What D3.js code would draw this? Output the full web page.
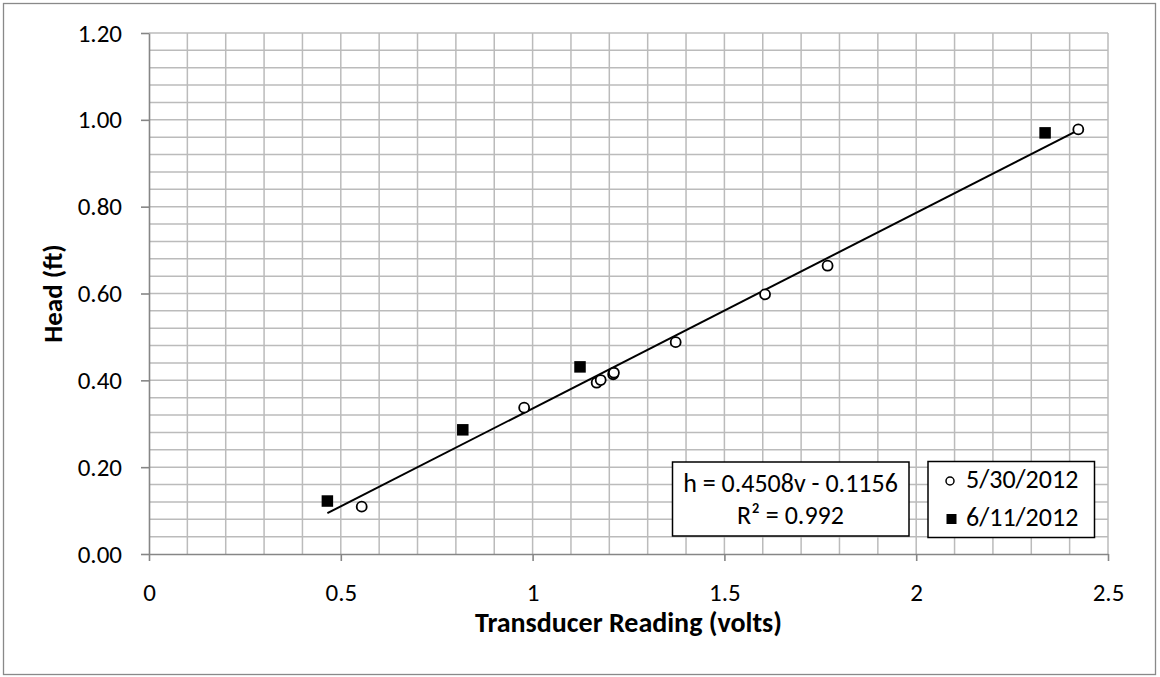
<!DOCTYPE html>
<html>
<head>
<meta charset="utf-8">
<script src="https://cdn.jsdelivr.net/npm/d3@7"></script>
<style>
  html, body { margin: 0; padding: 0; background: #fff; }
  svg { display: block; font-family: Carlito, Calibri, "Open Sans", sans-serif; }
</style>
</head>
<body>
<svg id="chart" width="1160" height="677"></svg>
<script>
// readings taken 5/30/2012 (open circles)
const voltsMay = [0.5545, 0.978, 1.167, 1.1775, 1.21, 1.212, 1.373, 1.606, 1.769, 2.4226]
const headMay  = [0.109, 0.337, 0.3945, 0.4007, 0.414, 0.4175, 0.488, 0.598, 0.664, 0.978]

// readings taken 6/11/2012 (filled squares)
const voltsJun = [0.465, 0.818, 1.1236, 2.336]
const headJun  = [0.122, 0.286, 0.431, 0.970]

const seriesNames = ['5/30/2012', '6/11/2012']
const xTicks = [0, 0.5, 1, 1.5, 2, 2.5]
const yTicks = [0, 0.2, 0.4, 0.6, 0.8, 1.0, 1.2]

// fitted line h = a*v + b
const slope = 0.4508
const intercept = -0.1156
const eqLines = ['h = 0.4508v - 0.1156', 'R² = 0.992']

const svg = d3.select('#chart')
const W = 1160, H = 677
const m = { left: 149, right: 1108, top: 33, bottom: 554 }
const font = 'Carlito, Calibri, "Open Sans", sans-serif'

const x = d3.scaleLinear().domain([0, 2.5]).range([m.left, m.right])
const y = d3.scaleLinear().domain([0, 1.2]).range([m.bottom, m.top])

// chart border
svg.append('rect')
    .attr('x', 3.5).attr('y', 3.5)
    .attr('width', W - 8).attr('height', H - 6)
    .attr('fill', '#fff').attr('stroke', '#898989').attr('stroke-width', 1.3)

// grid
const grid = svg.append('g')
d3.range(1, 26).map(i => i / 10).forEach(v => {
    grid.append('line')
        .attr('x1', x(v)).attr('x2', x(v))
        .attr('y1', m.top).attr('y2', m.bottom)
        .attr('stroke', '#bbbbbb').attr('stroke-width', 1.5)
})
d3.range(1, 31).map(i => i * 0.04).forEach(v => {
    grid.append('line')
        .attr('x1', m.left).attr('x2', m.right)
        .attr('y1', y(v)).attr('y2', y(v))
        .attr('stroke', '#bbbbbb').attr('stroke-width', 1.5)
})

// axes
const xAxis = svg.append('g')
    .attr('transform', `translate(0,${m.bottom})`)
    .call(d3.axisBottom(x).tickValues(xTicks).tickFormat(d3.format('~g')).tickSizeInner(7).tickSizeOuter(0).tickPadding(22))
const yAxis = svg.append('g')
    .attr('transform', `translate(${m.left},0)`)
    .call(d3.axisLeft(y).tickValues(yTicks).tickFormat(d3.format('.2f')).tickSizeInner(8).tickSizeOuter(0).tickPadding(19))

for (const ax of [xAxis, yAxis]) {
    ax.select('.domain').attr('stroke', '#868686').attr('stroke-width', 1.6)
    ax.selectAll('.tick line').attr('stroke', '#868686').attr('stroke-width', 1.6)
    ax.selectAll('.tick text').attr('fill', '#000').style('font-size', '25px').style('font-family', font)
}

// axis titles
svg.append('text')
    .attr('x', (m.left + m.right) / 2).attr('y', 632)
    .attr('text-anchor', 'middle')
    .style('font-size', '28px').style('font-weight', 'bold')
    .text('Transducer Reading (volts)')
svg.append('text')
    .attr('transform', `translate(62,${(m.top + m.bottom) / 2}) rotate(-90)`)
    .attr('text-anchor', 'middle')
    .style('font-size', '27px').style('font-weight', 'bold')
    .text('Head (ft)')

// trend line across the data range
const allV = voltsMay.concat(voltsJun)
const vMin = d3.min(allV), vMax = d3.max(allV)
svg.append('line')
    .attr('x1', x(vMin)).attr('y1', y(slope * vMin + intercept))
    .attr('x2', x(vMax)).attr('y2', y(slope * vMax + intercept))
    .attr('stroke', '#000').attr('stroke-width', 2)

// points
svg.append('g').selectAll('circle')
    .data(d3.zip(voltsMay, headMay))
    .enter().append('circle')
    .attr('cx', d => x(d[0])).attr('cy', d => y(d[1]))
    .attr('r', 5)
    .attr('fill', '#fff').attr('stroke', '#000').attr('stroke-width', 1.8)

const sq = 11.5
svg.append('g').selectAll('rect')
    .data(d3.zip(voltsJun, headJun))
    .enter().append('rect')
    .attr('x', d => x(d[0]) - sq / 2).attr('y', d => y(d[1]) - sq / 2)
    .attr('width', sq).attr('height', sq)
    .attr('fill', '#000')

// equation box
const eq = svg.append('g')
eq.append('rect')
    .attr('x', 672.5).attr('y', 462)
    .attr('width', 236.5).attr('height', 74)
    .attr('fill', '#fff').attr('stroke', '#000').attr('stroke-width', 1.5)
eq.selectAll('text')
    .data(eqLines)
    .enter().append('text')
    .attr('x', 790.5).attr('y', (d, i) => 492 + i * 32)
    .attr('text-anchor', 'middle')
    .style('font-size', '26px')
    .text(d => d)

// legend
const lg = svg.append('g')
lg.append('rect')
    .attr('x', 928).attr('y', 461.5)
    .attr('width', 166.5).attr('height', 76)
    .attr('fill', '#fff').attr('stroke', '#000').attr('stroke-width', 1.5)
lg.append('circle')
    .attr('cx', 950).attr('cy', 481)
    .attr('r', 4)
    .attr('fill', '#fff').attr('stroke', '#000').attr('stroke-width', 1.5)
lg.append('rect')
    .attr('x', 946.5).attr('y', 514)
    .attr('width', 10).attr('height', 10)
    .attr('fill', '#000')
lg.selectAll('text')
    .data(seriesNames)
    .enter().append('text')
    .attr('x', 966).attr('y', (d, i) => 488 + i * 38)
    .style('font-size', '26px')
    .text(d => d)
</script>
</body>
</html>
